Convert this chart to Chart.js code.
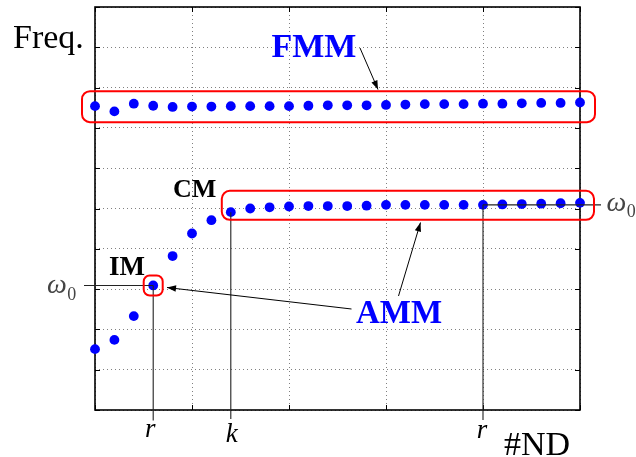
<!DOCTYPE html>
<html>
<head>
<meta charset="utf-8">
<script src="https://cdn.jsdelivr.net/npm/chart.js@4.4.1/dist/chart.umd.min.js"></script>
<style>
  html, body { margin: 0; padding: 0; background: #fff; }
  #wrap { width: 636px; height: 457px; position: relative; }
</style>
</head>
<body>
<div id="wrap"><canvas id="c" width="636" height="457"></canvas></div>
<script>
// ---- data ----
const nd = [0,1,2,3,4,5,6,7,8,9,10,11,12,13,14,15,16,17,18,19,20,21,22,23,24,25];
const fmmFreq = [7.54,7.41,7.60,7.55,7.52,7.53,7.53,7.54,7.54,7.54,7.54,7.55,7.56,7.56,7.56,7.57,7.58,7.59,7.59,7.59,7.60,7.60,7.61,7.62,7.62,7.63];
const ammFreq = [1.51,1.74,2.33,3.09,3.82,4.38,4.71,4.91,5.00,5.03,5.05,5.06,5.06,5.06,5.07,5.09,5.09,5.09,5.09,5.09,5.09,5.10,5.11,5.12,5.13,5.14];
const xTicks = [0,5,10,15,20,25];
const yTicks = [0,1,2,3,4,5,6,7,8,9,10];
const markIdx = { r: 3, k: 7, r2: 20 };
const markLabels = { r: "r", k: "k", r2: "r" };

const serif = '"Liberation Serif", "DejaVu Serif", serif';

const annot = {
  id: 'annot',
  beforeDatasetsDraw(chart) {
    const { ctx, chartArea: a, scales: { x, y } } = chart;
    ctx.save();
    ctx.strokeStyle = '#000';
    ctx.lineWidth = 1.6;
    ctx.strokeRect(a.left, a.top, a.right - a.left, a.bottom - a.top);
    ctx.lineWidth = 1;
    ctx.beginPath();
    yTicks.forEach(v => {
      const py = Math.round(y.getPixelForValue(v)) + 0.5;
      ctx.moveTo(a.left, py); ctx.lineTo(a.left + 5, py);
      ctx.moveTo(a.right, py); ctx.lineTo(a.right - 5, py);
    });
    xTicks.forEach(v => {
      const px = Math.round(x.getPixelForValue(v)) + 0.5;
      ctx.moveTo(px, a.bottom); ctx.lineTo(px, a.bottom - 5);
      ctx.moveTo(px, a.top); ctx.lineTo(px, a.top + 5);
    });
    ctx.stroke();
    ctx.restore();
  },
  afterDatasetsDraw(chart) {
    const { ctx, chartArea: a, scales: { x, y } } = chart;
    const X = v => x.getPixelForValue(v);
    const Y = v => y.getPixelForValue(v);
    ctx.save();

    function rrect(x0, y0, x1, y1, r) {
      ctx.beginPath();
      ctx.moveTo(x0 + r, y0);
      ctx.lineTo(x1 - r, y0); ctx.arcTo(x1, y0, x1, y0 + r, r);
      ctx.lineTo(x1, y1 - r); ctx.arcTo(x1, y1, x1 - r, y1, r);
      ctx.lineTo(x0 + r, y1); ctx.arcTo(x0, y1, x0, y1 - r, r);
      ctx.lineTo(x0, y0 + r); ctx.arcTo(x0, y0, x0 + r, y0, r);
      ctx.closePath();
      ctx.stroke();
    }
    function arrow(x0, y0, x1, y1) {
      ctx.beginPath(); ctx.moveTo(x0, y0); ctx.lineTo(x1, y1); ctx.stroke();
      const ang = Math.atan2(y1 - y0, x1 - x0);
      const L = 9, W = 3.2;
      ctx.beginPath();
      ctx.moveTo(x1, y1);
      ctx.lineTo(x1 - L * Math.cos(ang) + W * Math.sin(ang), y1 - L * Math.sin(ang) - W * Math.cos(ang));
      ctx.lineTo(x1 - L * Math.cos(ang) - W * Math.sin(ang), y1 - L * Math.sin(ang) + W * Math.cos(ang));
      ctx.closePath(); ctx.fill();
    }

    ctx.strokeStyle = '#222';
    ctx.lineWidth = 1.1;
    const rx = X(nd[markIdx.r]), ry = Y(ammFreq[markIdx.r]);
    const kx = X(nd[markIdx.k]), ky = Y(ammFreq[markIdx.k]);
    const r2x = X(nd[markIdx.r2]), r2y = Y(ammFreq[markIdx.r2]);
    ctx.beginPath();
    ctx.moveTo(a.left - 11, ry); ctx.lineTo(rx, ry);
    ctx.moveTo(rx, ry); ctx.lineTo(rx, a.bottom + 10.5);
    ctx.moveTo(kx, ky); ctx.lineTo(kx, a.bottom + 9);
    ctx.moveTo(r2x, r2y); ctx.lineTo(r2x, a.bottom + 10);
    ctx.moveTo(r2x, r2y); ctx.lineTo(a.right + 21, r2y);
    ctx.stroke();

    ctx.strokeStyle = '#ff0000';
    ctx.lineWidth = 2;
    rrect(X(0) - 13, Y(fmmFreq[0]) - 15, X(25) + 15, Y(fmmFreq[0]) + 16, 8);
    rrect(X(nd[markIdx.k]) - 9, Y(ammFreq[20]) - 14, X(25) + 14, Y(ammFreq[20]) + 15, 8);
    rrect(rx - 9.5, ry - 10, rx + 9.5, ry + 10, 6);

    ctx.strokeStyle = '#000';
    ctx.fillStyle = '#000';
    ctx.lineWidth = 1;
    arrow(360, 48, 378, 89.5);
    arrow(398.5, 296, 420.5, 222.5);
    arrow(351.5, 309, 167, 287.5);

    ctx.textBaseline = 'alphabetic';
    ctx.textAlign = 'left';
    ctx.fillStyle = '#000';
    ctx.font = '34px ' + serif;
    ctx.fillText('Freq.', 13, 48);
    ctx.fillText('#ND', 504, 455);

    ctx.fillStyle = '#0000ff';
    ctx.font = 'bold 34px ' + serif;
    ctx.fillText('FMM', 271.5, 56.5);
    ctx.font = 'bold 33px ' + serif;
    ctx.fillText('AMM', 356, 323);

    ctx.fillStyle = '#000';
    ctx.font = 'bold 26px ' + serif;
    ctx.fillText('CM', 173, 197);
    ctx.font = 'bold 27px ' + serif;
    ctx.fillText('IM', 109, 275);

    ctx.fillStyle = '#444';
    function omega(x0, base) {
      ctx.font = 'italic 28px ' + serif;
      ctx.fillText('\u03c9', x0, base);
      const w = ctx.measureText('\u03c9').width;
      ctx.font = '18px ' + serif;
      ctx.fillText('0', x0 + w + 0.5, base + 6.5);
    }
    omega(47, 293);
    omega(606.5, 210.5);

    ctx.fillStyle = '#000';
    ctx.textAlign = 'center';
    ctx.font = 'italic 27px ' + serif;
    ctx.fillText(markLabels.r, rx - 3, 437);
    ctx.fillText(markLabels.k, kx + 1, 442);
    ctx.fillText(markLabels.r2, r2x - 1, 438);

    ctx.restore();
  }
};

new Chart(document.getElementById('c'), {
  type: 'scatter',
  data: {
    datasets: [
      { label: 'FMM', data: nd.map((v, i) => ({ x: v, y: fmmFreq[i] })),
        pointRadius: 4.9, pointBackgroundColor: '#0000ff', pointBorderWidth: 0, clip: false },
      { label: 'AMM', data: nd.map((v, i) => ({ x: v, y: ammFreq[i] })),
        pointRadius: 4.9, pointBackgroundColor: '#0000ff', pointBorderWidth: 0, clip: false }
    ]
  },
  options: {
    responsive: false,
    animation: false,
    events: [],
    layout: { padding: { left: 95, right: 56, top: 7, bottom: 47 } },
    plugins: { legend: { display: false }, tooltip: { enabled: false } },
    scales: {
      x: {
        type: 'linear', min: 0, max: 25,
        afterFit: s => { s.height = 0; },
        afterBuildTicks: s => { s.ticks = xTicks.map(v => ({ value: v })); },
        ticks: { display: false },
        grid: { color: '#808080', lineWidth: 1, drawTicks: false },
        border: { display: false, dash: [1, 3] }
      },
      y: {
        type: 'linear', min: 0, max: 10,
        afterFit: s => { s.width = 0; },
        afterBuildTicks: s => { s.ticks = yTicks.map(v => ({ value: v })); },
        ticks: { display: false },
        grid: { color: '#808080', lineWidth: 1, drawTicks: false },
        border: { display: false, dash: [1, 3] }
      }
    }
  },
  plugins: [annot]
});
</script>
</body>
</html>
